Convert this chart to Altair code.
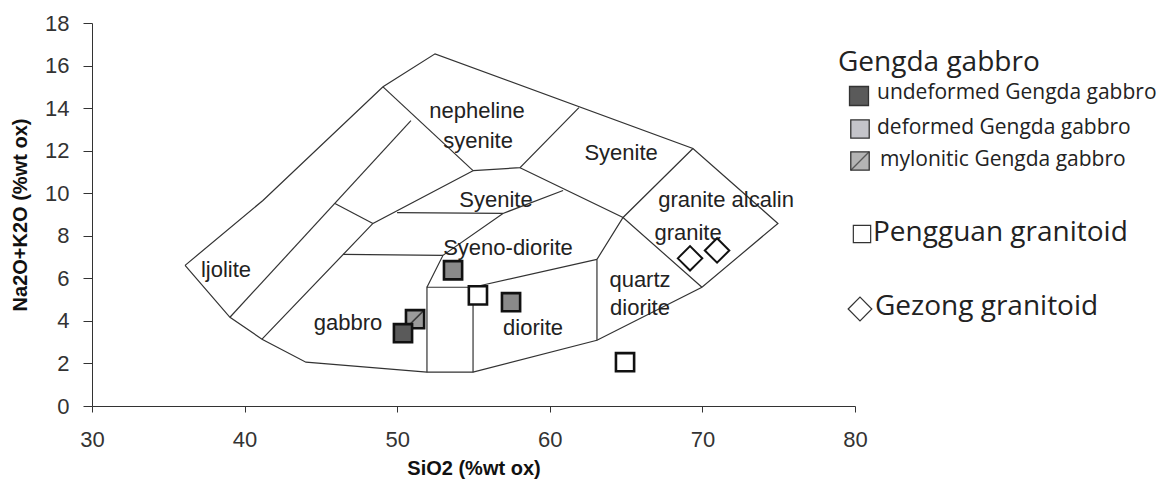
import altair as alt
import pandas as pd

# ---------------- data ----------------
# outer outline of the classification diagram (SiO2, Na2O+K2O)
outline_x = [36.1, 41.2, 49.07, 52.48, 69.38, 74.95, 69.97, 63.09, 54.97, 51.95, 44.02, 41.14, 39.04, 36.1]
outline_y = [6.61, 9.66, 15.0, 16.55, 12.10, 8.58, 5.58, 3.09, 1.59, 1.59, 2.06, 3.14, 4.17, 6.61]

# internal field boundaries
ijolite_x = [39.04, 50.9]
ijolite_y = [4.17, 13.41]
step_x = [45.92, 48.41]
step_y = [9.52, 8.58]
gabbro_left_x = [41.14, 48.41, 54.97]
gabbro_left_y = [3.14, 8.58, 11.06]
neph_left_x = [49.07, 54.97]
neph_left_y = [15.0, 11.06]
neph_base_x = [54.97, 58.05, 61.91]
neph_base_y = [11.06, 11.2, 14.02]
syenite_base_x = [58.05, 64.8, 69.97]
syenite_base_y = [11.2, 8.86, 5.58]
granite_left_x = [69.38, 64.8, 63.09, 63.09]
granite_left_y = [12.10, 8.86, 6.89, 3.09]
diorite_top_x = [63.09, 54.97, 51.95, 51.95]
diorite_top_y = [6.89, 5.58, 5.58, 1.59]
box_right_x = [54.97, 54.97]
box_right_y = [5.58, 1.59]
syenodiorite_x = [51.95, 53.0, 56.93, 60.87]
syenodiorite_y = [5.58, 7.08, 9.05, 10.13]
hline1_x = [46.45, 53.0]
hline1_y = [7.13, 7.08]
hline2_x = [49.99, 56.93]
hline2_y = [9.09, 9.05]

field_lines = [
    (outline_x, outline_y), (ijolite_x, ijolite_y), (step_x, step_y),
    (gabbro_left_x, gabbro_left_y), (neph_left_x, neph_left_y),
    (neph_base_x, neph_base_y), (syenite_base_x, syenite_base_y),
    (granite_left_x, granite_left_y), (diorite_top_x, diorite_top_y),
    (box_right_x, box_right_y), (syenodiorite_x, syenodiorite_y),
    (hline1_x, hline1_y), (hline2_x, hline2_y),
]

# field names
field_names = ["nepheline", "syenite", "Syenite", "Syenite", "granite alcalin", "granite",
               "Syeno-diorite", "quartz", "diorite", "diorite", "gabbro", "ljolite"]
field_x = [55.23, 55.3, 64.67, 56.47, 71.55, 69.06, 57.26, 65.91, 65.91, 58.9, 46.78, 38.78]
field_y = [13.88, 12.47, 11.91, 9.66, 9.66, 8.11, 7.41, 5.91, 4.59, 3.66, 3.89, 6.38]

# samples
undeformed_x = [50.38]
undeformed_y = [3.42]
mylonitic_x = [51.17]
mylonitic_y = [4.08]
deformed_x = [53.66, 57.46]
deformed_y = [6.38, 4.88]
pengguan_x = [55.29, 64.93]
pengguan_y = [5.20, 2.06]
gezong_x = [69.19, 70.96]
gezong_y = [6.94, 7.31]

x_ticks = [30, 40, 50, 60, 70, 80]
y_ticks = [0, 2, 4, 6, 8, 10, 12, 14, 16, 18]

# ---------------- chart ----------------
rows = []
for i, (xs, ys) in enumerate(field_lines):
    for j, (a, b) in enumerate(zip(xs, ys)):
        rows.append({"line": i, "order": j, "x": a, "y": b})
lines_df = pd.DataFrame(rows)

xscale = alt.Scale(domain=[30, 80], nice=False, zero=False)
yscale = alt.Scale(domain=[0, 18], nice=False, zero=False)

FONT = "Liberation Sans"
LEG_FONT = "Open Sans"


def X():
    return alt.X("x:Q", scale=xscale, title="SiO2 (%wt ox)",
                 axis=alt.Axis(values=x_ticks, grid=False, labelFontSize=22, labelFont=FONT,
                               labelColor="#333", tickSize=6, labelPadding=17, tickColor="#333",
                               domainColor="#333", titleFont=FONT, titleFontSize=20,
                               titleFontWeight="bold", titleColor="#111", titlePadding=8,
                               labelFlush=False))


def Y():
    return alt.Y("y:Q", scale=yscale, title="Na2O+K2O (%wt ox)",
                 axis=alt.Axis(values=y_ticks, grid=False, labelFontSize=22, labelFont=FONT,
                               labelColor="#333", tickSize=9, labelPadding=14, tickColor="#333",
                               domainColor="#333", titleFont=FONT, titleFontSize=20,
                               titleFontWeight="bold", titleColor="#111", titlePadding=14,
                               labelFlush=False))


lines = alt.Chart(lines_df).mark_line(color="#333", strokeWidth=1.2, clip=False).encode(
    x=X(), y=Y(), detail="line:N", order="order:Q")

labels_df = pd.DataFrame({"label": field_names, "x": field_x, "y": field_y})
labels = alt.Chart(labels_df).mark_text(font=FONT, fontSize=22, color="#222",
                                        align="center", baseline="middle").encode(
    x=X(), y=Y(), text="label:N")


def pts(xs, ys, shape, fill, size, sw=2.6, filled=True):
    df = pd.DataFrame({"x": xs, "y": ys})
    return alt.Chart(df).mark_point(shape=shape, filled=filled, fill=fill, stroke="#111",
                                    strokeWidth=sw, size=size, opacity=1).encode(x=X(), y=Y())


SQ = 330
myl_sq = pts(mylonitic_x, mylonitic_y, "square", "#9a9a9a", SQ)
myl_diag = alt.Chart(pd.DataFrame({"x": mylonitic_x, "y": mylonitic_y})).mark_point(
    shape="M -1 1 L 1 -1", filled=False, stroke="#111", strokeWidth=1.5, size=SQ).encode(x=X(), y=Y())
und = pts(undeformed_x, undeformed_y, "square", "#5a5a5a", SQ)
dfm = pts(deformed_x, deformed_y, "square", "#8a8a8a", SQ)
pen = pts(pengguan_x, pengguan_y, "square", "white", SQ)
gez = pts(gezong_x, gezong_y, "diamond", "white", 600, sw=2.0)

# ---------------- legend (drawn at fixed pixel places) ----------------
one = pd.DataFrame({"k": [0]})


def ltext(txt, px, py, size):
    return alt.Chart(one).mark_text(font=LEG_FONT, fontSize=size, color="#222", align="left",
                                    baseline="middle").encode(
        x=alt.value(px), y=alt.value(py), text=alt.value(txt))


def lsym(px, py, shape, fill, size, sw=1.3, filled=True):
    return alt.Chart(one).mark_point(shape=shape, filled=filled, fill=fill, stroke="#333",
                                     strokeWidth=sw, size=size, opacity=1).encode(
        x=alt.value(px), y=alt.value(py))


legend = [
    ltext("Gengda gabbro", 746, 40, 28),
    lsym(767, 73, "square", "#5a5a5a", 360),
    ltext("undeformed Gengda gabbro", 785, 70, 21),
    lsym(768, 106, "square", "#c4c4ca", 340),
    ltext("deformed Gengda gabbro", 785, 105, 21),
    lsym(768, 138, "square", "#b4b4b4", 340),
    alt.Chart(one).mark_point(shape="M -1 1 L 1 -1", filled=False, stroke="#333",
                              strokeWidth=1.3, size=340).encode(x=alt.value(768), y=alt.value(138)),
    ltext("mylonitic Gengda gabbro", 788, 137, 21),
    lsym(770, 211, "square", "white", 300, sw=1.2),
    ltext("Pengguan granitoid", 781, 210, 28),
    lsym(768, 286, "diamond", "white", 560, sw=1.2),
    ltext("Gezong granitoid", 783, 284, 28),
]

chart = alt.layer(lines, labels, myl_sq, myl_diag, und, dfm, pen, gez, *legend).properties(
    width=763, height=383,
    autosize=alt.AutoSizeParams(type="none"),
    padding={"left": 84, "top": 15, "right": 306, "bottom": 73},
    background="white",
).configure_view(stroke=None)

chart.save("out.html", embed_options={"renderer": "svg", "actions": False})
